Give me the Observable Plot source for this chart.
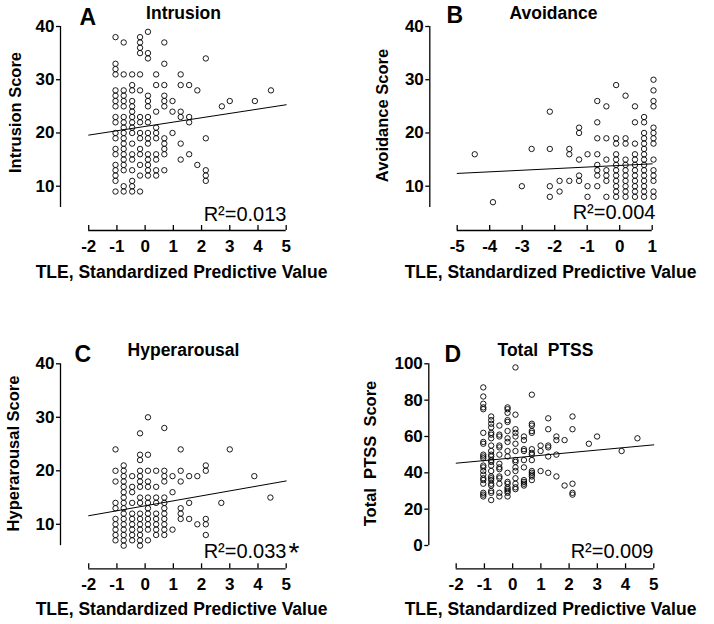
<!DOCTYPE html>
<html><head><meta charset="utf-8">
<script src="https://cdn.jsdelivr.net/npm/d3@7"></script>
<script src="https://cdn.jsdelivr.net/npm/@observablehq/plot@0.6"></script>
<style>
body{margin:0;background:#fff;}
#wrap{position:relative;width:714px;height:624px;background:#fff;}
.panel{position:absolute;}
</style></head><body><div id="wrap"></div>
<script>
// ---- Data ----
const xTicksStd = [-2, -1, 0, 1, 2, 3, 4, 5];
const xTicksB = [-5, -4, -3, -2, -1, 0, 1];
const yTicks40 = [10, 20, 30, 40];
const yTicks100 = [0, 20, 40, 60, 80, 100];

// Panel A – Intrusion
const tleA = [-1.05, -0.76, -0.46, -0.18, 0.1, 0.39, 0.68, 0.97, 1.26, 1.56, 1.85, 2.15, 2.72, 3.0, 3.89, 4.46];
const intrusion = [
  [38,33,32,31,28,27,26,25,23,22,20,19,17,16,14,13,12,11,9],
  [37,31,28,27,26,25,23,22,21,20,19,18,17,16,15,14,13,10,9],
  [31,29,28,26,25,24,23,22,21,20,18,16,15,13,11,10,9],
  [38,37,36,35,31,28,23,22,20,19,17,16,14,12,9],
  [39,35,34,27,26,25,23,22,20,19,18,16,15,14,13,12],
  [31,29,24,21,20,19,16,15,13,12],
  [37,33,29,27,26,25,19,18,17,16,13],
  [26,24,20],
  [31,29,24,23,18,15],
  [29,23,22,16],
  [28,14],
  [34,19,13,12,11],
  [25],[26],[26],[28]
];
const fitA = [{x: -2, y: 19.6}, {x: 5, y: 25.3}];

// Panel B – Avoidance
const tleB = [-4.46, -3.9, -3.01, -2.71, -2.15, -1.85, -1.55, -1.25, -0.99, -0.69, -0.41, -0.11, 0.18, 0.47, 0.75, 1.04];
const avoidance = [
  [16],[7],[10],[17],
  [24,17,10,8],
  [11,9],
  [17,16,11],
  [21,20,15,12,11],
  [16,10,8],
  [26,22,19,16,14,13,12,10],
  [25,19,15,13,12,11,8],
  [29,19,18,16,15,14,13,12,11,10,9,8],
  [27,19,18,15,14,13,12,11,10,9,8],
  [25,22,18,16,15,14,13,12,11,10,9,8],
  [23,22,20,19,18,17,16,15,14,13,12,11,10,9,8],
  [30,28,26,25,21,20,19,18,15,13,12,11,9,8]
];
const fitB = [{x: -5, y: 12.4}, {x: 1, y: 14.2}];

// Panel C – Hyperarousal
const tleC = [-1.05, -0.76, -0.46, -0.18, 0.1, 0.39, 0.68, 0.97, 1.26, 1.56, 1.85, 2.15, 2.7, 3.0, 3.87, 4.44];
const hyperarousal = [
  [24,20,18,14,13,11,10,9,8,7],
  [21,20,19,18,17,16,15,14,13,12,11,10,9,8,7,6],
  [19,17,16,14,12,11,10,9,8,7],
  [27,23,22,20,19,18,17,15,14,12,11,10,9,8,7,6],
  [30,23,20,18,17,15,14,13,12,11,10,9,7],
  [20,17,15,14,12,11,10,9,8],
  [28,20,19,18,15,14,13,12,11,10,9,8],
  [19,16,9],
  [24,20,18,13,12,11],
  [19,14,11],
  [19,10],
  [21,20,11,10,8],
  [14],[24],[19],[15]
];
const fitC = [{x: -2, y: 11.6}, {x: 5, y: 18.1}];

// Panel D – Total PTSS
const tleD = [-1.04, -0.76, -0.47, -0.18, 0.1, 0.4, 0.68, 0.99, 1.26, 1.55, 1.84, 2.12, 2.7, 2.99, 3.86, 4.42];
const totalPTSS = [
  [87,82,78,76,75,62,57,56,50,49,48,44,43,41,39,37,36,34,29,28,27],
  [71,69,67,65,62,61,59,55,52,50,49,47,46,44,41,38,37,36,34,33,30,29,25],
  [66,61,60,55,54,50,45,43,42,38,37,34,29,27],
  [76,75,73,69,68,63,59,57,52,49,40,35,34,32,31,30,29,27],
  [98,72,64,62,60,56,52,47,46,43,41,37,34,32,31],
  [60,58,53,52,47,43,36,35,34,33],
  [83,67,66,63,62,53,51,50,47,41,40,39,38,36],
  [55,52,41],
  [70,64,55,54,49,40],
  [60,58,50,38],
  [58,33],
  [71,64,34,29,28],
  [56],[60],[52],[59]
];
const fitD = [{x: -2, y: 45.3}, {x: 5, y: 55.4}];

// ---- Drawing ----
const FONT = '"Liberation Sans", Arial, Helvetica, sans-serif';
const flat = (xs, ys) => xs.flatMap((x, i) => ys[i].map(y => ({x, y})));

function panel(c) {
  const W = 357, H = 287;
  const at = (px, py) => ({frameAnchor: "top-left", dx: px - c.mL, dy: py - c.mT});
  const y0 = c.yDomain[0];
  const marks = [
    Plot.ruleX([c.xDomain[0]], {y1: c.yLo, y2: c.yHi, stroke: "black", strokeWidth: 1.3}),
    Plot.ruleY([y0], {x1: c.xTicks[0], x2: c.xTicks[c.xTicks.length - 1], stroke: "black", strokeWidth: 1.3}),
    Plot.ruleX(c.xTicks, {x: d => d, y1: y0, y2: y0, insetBottom: 5, stroke: "black", strokeWidth: 1.3}),
    Plot.axisY(c.yTicks, {tickSize: 4, tickPadding: 2, fontSize: 17, strokeWidth: 1.3, tickFormat: d => String(d), label: null}),
    Plot.axisX(c.xTicks, {tickSize: 0, tickPadding: 9, fontSize: 17, tickFormat: d => String(d), label: null}),
    Plot.line(c.fit, {x: "x", y: "y", stroke: "black", strokeWidth: 1}),
    Plot.dot(c.pts, {x: "x", y: "y", r: 2.7, stroke: "black", strokeWidth: 0.9, fill: "none"}),
    Plot.text([c.letter], {...at(c.letterX, c.letterY), text: d => d, fontSize: 23, textAnchor: "start", lineAnchor: "bottom"}),
    Plot.text([c.title], {...at(c.titleX, 18), text: d => d, fontSize: 17.5, textAnchor: "middle", lineAnchor: "bottom"}),
    Plot.text([c.ylabel], {...at(c.ylabX, c.ylabY), text: d => d, fontSize: 16.5, rotate: -90, textAnchor: "middle", lineAnchor: "middle"}),
    Plot.text(["TLE, Standardized Predictive Value"], {...at(c.xlabX, 277), text: d => d, fontSize: 17.5, textAnchor: "middle", lineAnchor: "bottom"}),
    Plot.text([c.r2], {...at(c.r2X, c.r2Y), text: d => d, fontSize: 20, fontWeight: "normal", textAnchor: "end", lineAnchor: "bottom"})
  ];
  if (c.star) marks.push(Plot.text(["*"], {...at(c.r2X + 2, c.r2Y + 4), text: d => d, fontSize: 28, fontWeight: "normal", textAnchor: "start", lineAnchor: "bottom"}));
  const svg = Plot.plot({
    width: W, height: H,
    marginLeft: c.mL, marginRight: c.mR, marginTop: c.mT, marginBottom: c.mB,
    x: {domain: c.xDomain}, y: {domain: c.yDomain},
    style: {fontFamily: FONT, fontWeight: "bold", background: "white", color: "black", overflow: "visible"},
    marks
  });
  const div = document.createElement("div");
  div.className = "panel";
  div.style.left = c.left + "px";
  div.style.top = c.top + "px";
  div.appendChild(svg);
  document.getElementById("wrap").appendChild(div);
}

panel({left: 0, top: 0, mL: 60, mR: 71.3, mT: 26, mB: 57, xDomain: [-3.0, 5], yDomain: [1.68, 40], yLo: 6, yHi: 40,
  xTicks: xTicksStd, yTicks: yTicks40, pts: flat(tleA, intrusion), fit: fitA,
  letter: "A", letterX: 79, letterY: 24, title: "Intrusion", titleX: 183, ylabel: "Intrusion Score", ylabX: 15, ylabY: 112,
  xlabX: 181, r2: "R²=0.013", r2X: 286, r2Y: 220});

panel({left: 357, top: 0, mL: 72.3, mR: 62.3, mT: 26, mB: 57, xDomain: [-5.843, 1], yDomain: [1.68, 40], yLo: 6, yHi: 40,
  xTicks: xTicksB, yTicks: yTicks40, pts: flat(tleB, avoidance), fit: fitB,
  letter: "B", letterX: 89, letterY: 22, title: "Avoidance", titleX: 196, ylabel: "Avoidance Score", ylabX: 25, ylabY: 115,
  xlabX: 193, r2: "R²=0.004", r2X: 298, r2Y: 218});

panel({left: 0, top: 337, mL: 60, mR: 71.3, mT: 26.3, mB: 55.7, xDomain: [-3.0, 5], yDomain: [1.68, 40], yLo: 6, yHi: 40,
  xTicks: xTicksStd, yTicks: yTicks40, pts: flat(tleC, hyperarousal), fit: fitC,
  letter: "C", letterX: 74, letterY: 24, title: "Hyperarousal", titleX: 183, ylabel: "Hyperarousal Score", ylabX: 13, ylabY: 116,
  xlabX: 181, r2: "R²=0.033", r2X: 286, r2Y: 220, star: true});

panel({left: 357, top: 337, mL: 71.3, mR: 60.7, mT: 26.3, mB: 55.7, xDomain: [-2.97, 5], yDomain: [-12.82, 100], yLo: 0, yHi: 100,
  xTicks: xTicksStd, yTicks: yTicks100, pts: flat(tleD, totalPTSS), fit: fitD,
  letter: "D", letterX: 87, letterY: 24, title: "Total\u00a0 PTSS", titleX: 188, ylabel: "Total\u00a0 PTSS\u00a0 Score", ylabX: 13, ylabY: 116,
  xlabX: 193, r2: "R²=0.009", r2X: 296, r2Y: 220});
</script></body></html>
